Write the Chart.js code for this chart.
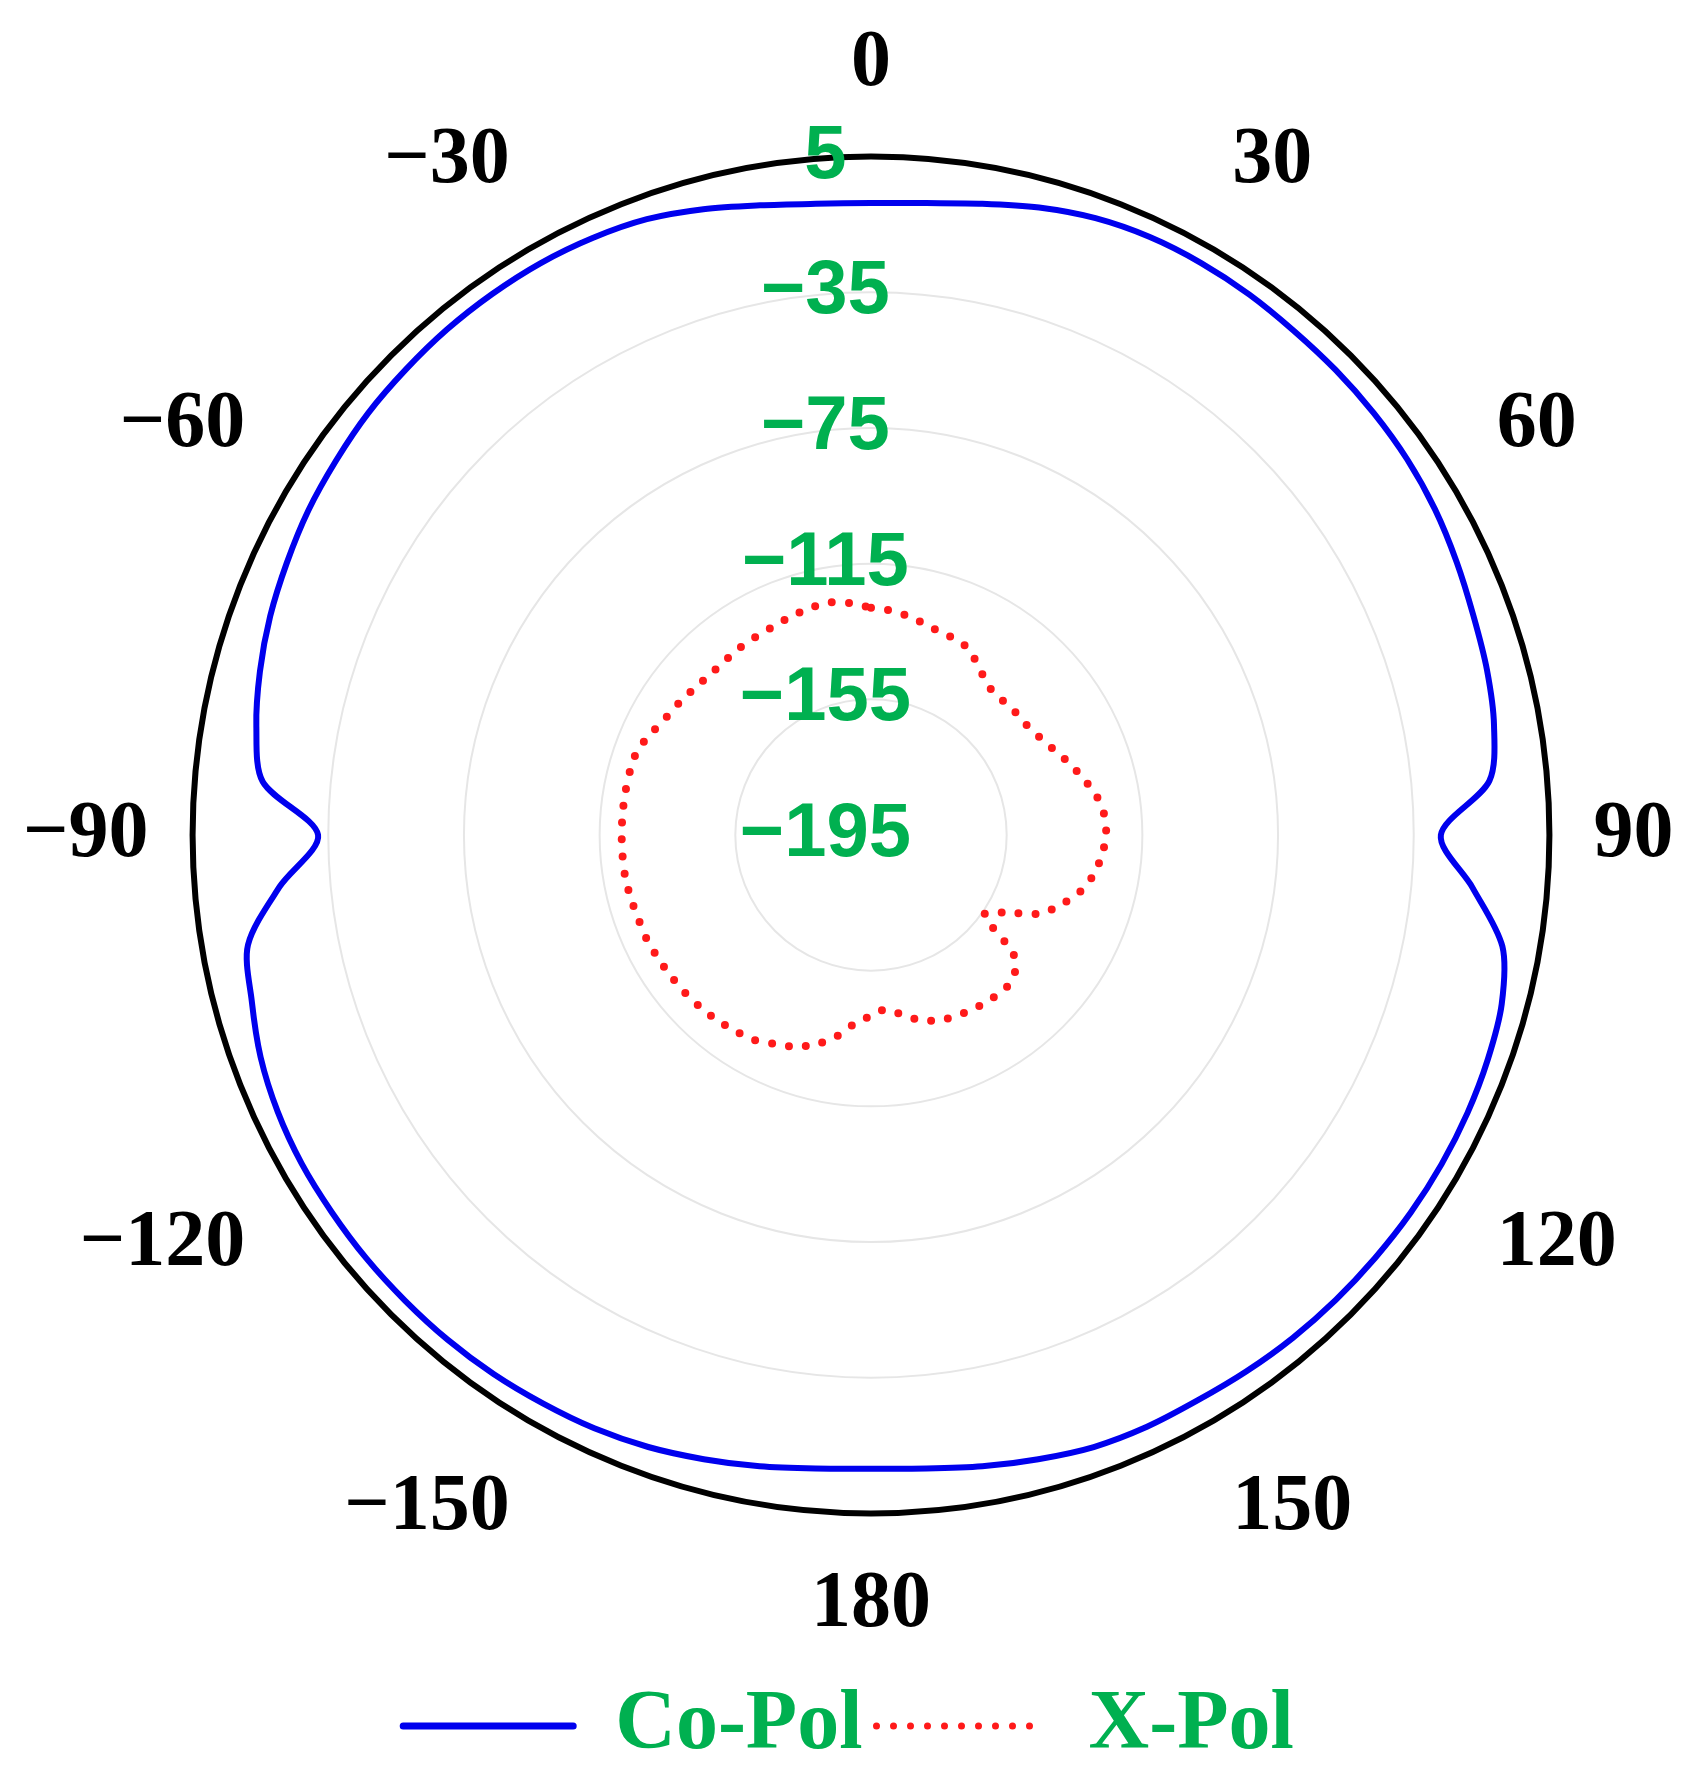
<!DOCTYPE html>
<html><head><meta charset="utf-8">
<script src="https://cdn.jsdelivr.net/npm/chart.js@4.4.1/dist/chart.umd.min.js"></script>
<style>html,body{margin:0;padding:0;background:#fff}#wrap{width:1697px;height:1778px}</style>
</head><body><div id="wrap"><canvas id="c" width="1697" height="1778"></canvas></div>
<script>
const angles = Array.from({length:72},(_, i)=>i*5);
const angleLabels = angles.map(a => a<=180 ? String(a) : '\u2212'+(360-a));
const radialTicks = [-195,-155,-115,-75,-35,5];
const coPol = [-8.7,-8,-6,-3.5,-1.5,-0.5,-0.3,-0.5,-1,-1.2,-1.5,-2,-3,-4.5,-6,-7,-8.5,-12,-27,-17,-6,-2.5,-1.5,-1,-0.8,-0.8,-1,-1.2,-1.5,-2,-2.5,-2.5,-3,-4.5,-6,-7.5,
 -8.2,-7.5,-6,-4.5,-3,-2,-1.5,-1,-0.8,-0.8,-0.8,-1,-1.2,-2,-3.5,-6,-8.5,-20,-32,-15,-11,-8.5,-6.5,-5,-3.5,-2.5,-1.5,-1,-0.5,-0.3,-0.3,-0.8,-1.8,-4,-6.5,-8.2];
const xPol = [-128.0,-128.6,-129.6,-131.0,-131.9,-132.2,-134.5,-137.5,-139.5,-139.5,-139.1,-138.8,-137.5,-135.5,-132.9,-130.3,-127.6,-126.0,-125.7,-126.7,-128.3,-131.0,-135.2,-140.1,-149.2,-154.1,-140.1,-135.5,-134.9,-135.2,-135.5,-136.1,-136.8,-138.5,-141.1,-143.4,
 -141.7,-139.1,-134.5,-131.0,-128.6,-127.1,-125.4,-124.7,-124.0,-123.5,-123.1,-122.8,-122.5,-122.1,-122.1,-121.8,-121.5,-121.5,-121.5,-121.5,-121.5,-121.5,-121.8,-123.7,-125.4,-126.4,-127.4,-128.0,-128.0,-127.6,-127.4,-127.1,-126.4,-125.7,-125.4,-126.4];
const seriesNames = ['Co-Pol','X-Pol'];

new Chart(document.getElementById('c'),{
 type:'radar',
 data:{labels:angleLabels,datasets:[
  {label:seriesNames[0],data:coPol,borderColor:'#0000ee',borderWidth:6,pointRadius:0,fill:false,tension:0.3},
  {label:seriesNames[1],data:xPol,borderColor:'#ff1a1a',borderWidth:8,borderDash:[0,17],borderCapStyle:'round',pointRadius:0,fill:false,tension:0.3}
 ]},
 options:{responsive:false,animation:false,
  layout:{padding:{top:0,left:0,right:0,bottom:0}},
  plugins:{tooltip:{enabled:false},
   legend:{position:'bottom',labels:{usePointStyle:true,pointStyle:'line',pointStyleWidth:170,padding:14,
    color:'#00b050',font:{family:'Liberation Serif',size:84,weight:'bold'},
    generateLabels(chart){return chart.data.datasets.map((d,i)=>({text:d.label,strokeStyle:d.borderColor,fillStyle:d.borderColor,lineWidth:7,lineDash:i?[0,17]:[],lineCap:'round',pointStyle:'line',datasetIndex:i,fontColor:'#00b050'}));}}}},
  scales:{r:{min:radialTicks[0],max:radialTicks[radialTicks.length-1],
   afterBuildTicks(s){s.ticks=radialTicks.map(v=>({value:v}));},
   angleLines:{display:false},
   grid:{circular:true,color:c=>c.index===radialTicks.length-1?'#000':'#e6e6e6',lineWidth:c=>c.index===radialTicks.length-1?6:2},
   ticks:{backdropColor:'rgba(0,0,0,0)',color:'#00b050',font:{family:'Liberation Sans',size:76,weight:'bold'},
    callback:(v)=>(v<0?'\u2212'+(-v):String(v))+'\u2002\u2002\u2009'},
   pointLabels:{padding:4,color:'#000',font:{family:'Liberation Serif',size:80,weight:'bold'},
    callback:(l,i)=>angles[i]%30===0?l:''}
  }}
 }
});
</script></body></html>
